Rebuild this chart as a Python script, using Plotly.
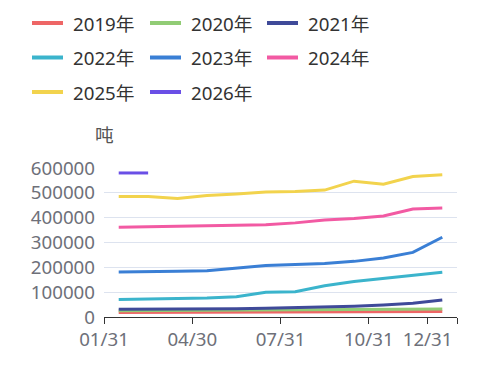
import plotly.graph_objects as go
import numpy as np

months = ["01", "02", "03", "04", "05", "06", "07", "08", "09", "10", "11", "12"]
tick_labels = ["01/31", "04/30", "07/31", "10/31", "12/31", ""]
tick_positions = [0, 3, 6, 9, 11, 12]

series_names = ["2019年", "2020年", "2021年", "2022年", "2023年", "2024年", "2025年", "2026年"]
s2019 = [18000, 18500, 19000, 19500, 20000, 20500, 21000, 21500, 22000, 22000, 22500, 22600]
s2020 = [25000, 25500, 26000, 26500, 27000, 27500, 28000, 29000, 30000, 30500, 31000, 32000]
s2021 = [31000, 31000, 32000, 33000, 33000, 35000, 37000, 41000, 43000, 48000, 55000, 68000]
s2022 = [70000, 72000, 74000, 77000, 82000, 100000, 102000, 126000, 143000, 155000, 168000, 180000]
s2023 = [181000, 181000, 184000, 186000, 196000, 207000, 211000, 215000, 224000, 238000, 260000, 321000]
s2024 = [361000, 363000, 363000, 366000, 368000, 371000, 379000, 391000, 397000, 407000, 435000, 439000]
s2025 = [485000, 485000, 477000, 489000, 495000, 503000, 505000, 511000, 547000, 535000, 566000, 573000]
s2026 = [580000, 580000]

colors = ["#ee6666", "#91cc75", "#3f4a99", "#3bb4cc", "#3a7fd5", "#f25aa3", "#f2d34d", "#6a4fe6"]

all_series = [s2019, s2020, s2021, s2022, s2023, s2024, s2025, s2026]

OFF = 8  # page body margin
W, H = 491 - OFF, 375 - OFF
ML, MT = 104 - OFF, 168 - OFF
MR = W - (457 - OFF)
MB = H - (317 - OFF)
plot_w = W - ML - MR
plot_h = H - MT - MB

font_fam = "Noto Sans, Noto Sans CJK SC, sans-serif"
FS = 18.7

fig = go.Figure()
for name, vals, col in zip(series_names, all_series, colors):
    x = np.arange(len(vals)) + 0.5
    fig.add_trace(go.Scatter(
        x=x, y=vals, mode="lines", name=name,
        line=dict(color=col, width=3),
        hoverinfo="skip",
    ))


def px_x(p):
    return (p - OFF - ML) / plot_w


def px_y(p):
    return (H - MB - (p - OFF)) / plot_h


# custom legend (3 columns), positions in reference-page pixels
col_x = [32, 150, 267]
row_y = [23, 57.5, 92]
shapes = []
annotations = []
for i, (name, col) in enumerate(zip(series_names, colors)):
    r, c = divmod(i, 3)
    x0 = col_x[c]
    y0 = row_y[r]
    shapes.append(dict(
        type="line", xref="paper", yref="paper",
        x0=px_x(x0), x1=px_x(x0 + 31), y0=px_y(y0), y1=px_y(y0),
        line=dict(color=col, width=4),
    ))
    annotations.append(dict(
        text=name, xref="paper", yref="paper",
        x=px_x(x0 + 39), y=px_y(y0), xanchor="left", yanchor="middle",
        showarrow=False, font=dict(size=FS, color="#333333", family=font_fam),
    ))

annotations.append(dict(
    text="吨", x=0, y=1, xref="paper", yref="paper",
    xanchor="center", yanchor="bottom", yshift=19, showarrow=False,
    font=dict(size=FS, color="#555555", family=font_fam),
))

fig.update_layout(
    width=W, height=H,
    margin=dict(l=ML, r=MR, t=MT, b=MB, autoexpand=False),
    paper_bgcolor="white", plot_bgcolor="white",
    font=dict(family=font_fam, size=FS, color="#6e7079"),
    showlegend=False,
    xaxis=dict(
        range=[0, len(months)],
        tickmode="array", tickvals=tick_positions, ticktext=tick_labels,
        showgrid=False, zeroline=False,
        showline=True, linecolor="#333333", linewidth=1,
        ticks="outside", ticklen=6, tickcolor="#333333",
        tickfont=dict(size=FS, color="#6e7079"),
    ),
    yaxis=dict(
        range=[0, 600000],
        tickmode="array", tickvals=[0, 100000, 200000, 300000, 400000, 500000, 600000],
        ticktext=["0", "100000", "200000", "300000", "400000", "500000", "600000"],
        showgrid=True, gridcolor="#dde3ef", gridwidth=1,
        zeroline=False, showline=False, ticks="",
        ticklabelstandoff=8,
        tickfont=dict(size=FS, color="#6e7079"),
    ),
    shapes=shapes,
    annotations=annotations,
)

fig.write_html("out.html")
